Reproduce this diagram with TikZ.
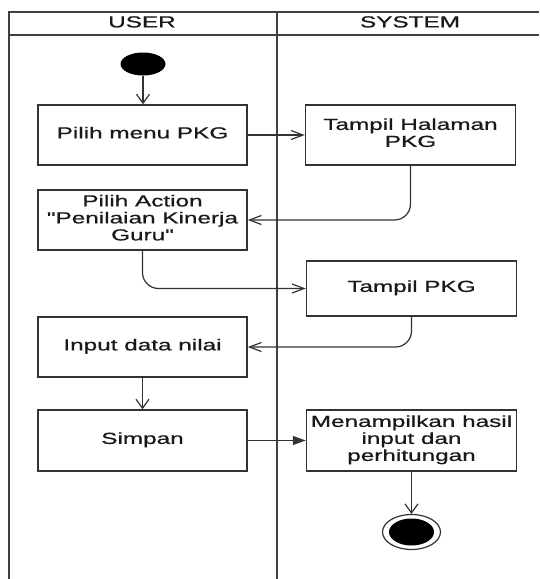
\documentclass[tikz,border=0pt]{standalone}
\usepackage{fontspec}
\setmainfont{Liberation Sans}[FakeBold=0.6, Ligatures=TeXOff]
\usepackage{graphicx}
\usetikzlibrary{arrows.meta,shapes.geometric}
% horizontally widened, centred multi-line label
\newcommand{\wlabel}[1]{\scalebox{1.52}[1]{\begin{tabular}{@{}c@{}}#1\end{tabular}}}

\begin{document}
\begin{tikzpicture}[x=1pt,y=-1pt,
  lane/.style={draw=black!75, line width=1.6pt},
  actbox/.style={draw=black!80, line width=1.5pt, rectangle, inner sep=0pt,
    minimum width=209pt, minimum height=60pt,
    font=\fontsize{16}{17}\selectfont, text=black!90},
  hdr/.style={inner sep=0pt, font=\fontsize{16}{17}\selectfont, text=black!90},
  flow/.style={draw=black!80, line width=1.2pt},
  harr/.style={-{Straight Barb[length=12pt,width=9pt]}},
  varr/.style={-{Straight Barb[length=9pt,width=13pt]}},
  farr/.style={-{Triangle[length=13pt,width=9pt]}}
]
\path[use as bounding box] (0,0) rectangle (539,579);

% swimlane frame
\draw[lane] (539,12) -- (9,12) -- (9,579);
\draw[lane] (9,35) -- (539,35);
\draw[lane] (277,12) -- (277,579);
\node[hdr] (hu) at (142,24) {\wlabel{USER}};
\node[hdr] (hs) at (410,24) {\wlabel{SYSTEM}};

% initial node
\node[ellipse, fill=black, inner sep=0pt, minimum width=45pt, minimum height=23pt] (start) at (143,64) {};

% actions
\node[actbox] (b1) at (142.5,135) {\wlabel{Pilih menu PKG}};
\node[actbox, minimum width=210pt] (b2) at (410.5,135) {\wlabel{Tampil Halaman\\PKG}};
\node[actbox] (b3) at (142.5,220) {\wlabel{Pilih Action\\"Penilaian Kinerja\\Guru"}};
\node[actbox, minimum width=210pt, minimum height=55pt] (b4) at (411.5,288.5) {\wlabel{Tampil PKG}};
\node[actbox] (b5) at (142.5,347) {\wlabel{Input data nilai}};
\node[actbox, minimum height=61pt] (b6) at (142.5,440.5) {\wlabel{Simpan}};
\node[actbox, minimum width=210pt, minimum height=61pt] (b7) at (411.5,440.5) {\wlabel{Menampilkan hasil\\input dan\\perhitungan}};

% final node
\node[ellipse, draw=black!80, line width=1.2pt, inner sep=0pt, minimum width=58pt, minimum height=35pt] (final) at (411.5,532) {};
\node[ellipse, fill=black, inner sep=0pt, minimum width=45pt, minimum height=27pt] (finalcore) at (final.center) {};

% control flow
\draw[flow, varr] (start.south) -- (start.south |- b1.north);
\draw[flow, harr] (b1.east) -- (b2.west);
\draw[flow, harr, rounded corners=16pt] (b2.south) |- (b3.east);
\draw[flow, harr, rounded corners=16pt] (b3.south) |- (b4.west);
\draw[flow, harr, rounded corners=16pt] (b4.south) |- (b5.east);
\draw[flow, varr] (b5.south) -- (b6.north);
\draw[flow, farr] (b6.east) -- (b7.west);
\draw[flow, varr] (b7.south) -- (final.north);
\end{tikzpicture}
\end{document}
